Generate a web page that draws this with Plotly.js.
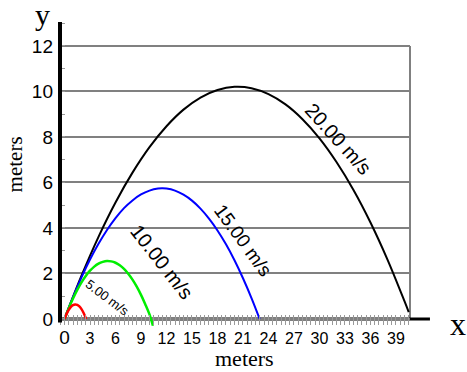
<!DOCTYPE html>
<html>
<head>
<meta charset="utf-8">
<script src="https://cdn.plot.ly/plotly-3.0.1.min.js"></script>
<style>html,body{margin:0;padding:0;background:#fff;}#chart{width:467px;height:372px;}</style>
</head>
<body>
<div id="chart"></div>
<script>
// Trajectory readings (x in meters, y in meters) for each launch speed
const x20 = [0, 2, 4, 6, 8, 10, 12, 14, 16, 18, 20, 22, 24, 26, 28, 30, 32, 34, 36, 38, 40, 40.5];
const y20 = [0, 1.90, 3.61, 5.12, 6.43, 7.55, 8.47, 9.20, 9.73, 10.06, 10.20, 10.14, 9.88, 9.43, 8.78, 7.94, 6.90, 5.67, 4.24, 2.61, 0.78, 0.30];

const x15 = [0, 1, 2, 3, 4, 5, 6, 7, 8, 9, 10, 11, 11.5, 12, 13, 14, 15, 16, 17, 18, 19, 20, 21, 22, 22.96];
const y15 = [0, 0.96, 1.83, 2.61, 3.30, 3.91, 4.43, 4.87, 5.21, 5.47, 5.64, 5.73, 5.74, 5.73, 5.64, 5.46, 5.20, 4.85, 4.41, 3.89, 3.28, 2.58, 1.79, 0.92, 0];

const x10 = [0, 0.5, 1, 1.5, 2, 2.5, 3, 3.5, 4, 4.5, 5, 5.5, 6, 6.5, 7, 7.5, 8, 8.5, 9, 9.5, 10, 10.4];
const y10 = [0, 0.475, 0.90, 1.28, 1.61, 1.89, 2.12, 2.30, 2.43, 2.51, 2.55, 2.53, 2.47, 2.36, 2.20, 1.99, 1.73, 1.42, 1.06, 0.65, 0.20, -0.30];

const x5 = [0, 0.25, 0.5, 0.75, 1, 1.25, 1.5, 1.75, 2, 2.25, 2.55];
const y5 = [0, 0.225, 0.40, 0.53, 0.61, 0.64, 0.62, 0.55, 0.43, 0.26, 0];

const speedLabels = ["20.00 m/s", "15.00 m/s", "10.00 m/s", "5.00 m/s"];

const xTickVals = [0, 3, 6, 9, 12, 15, 18, 21, 24, 27, 30, 33, 36, 39];
const xTickText = ['<span style="font-size:19px">0</span>', "3", "6", "9", "12", "15", "18", "21", "24", "27", "30", "33", "36", "39"];
const yTickVals = [0, 2, 4, 6, 8, 10, 12];
const yTickText = ["0", "2", "4", "6", "8", "10", "12"];

const SANS = "Liberation Sans, Arial, sans-serif";
const SERIF = "Liberation Serif, Times New Roman, serif";

function curve(x, y, color, w) {
  return {x: x, y: y, type: "scatter", mode: "lines", line: {color: color, width: w, shape: "spline"}, hoverinfo: "skip", showlegend: false};
}

const traces = [
  curve(x20, y20, "#000000", 2),
  curve(x15, y15, "#0000ff", 2),
  curve(x10, y10, "#00ee00", 2.5),
  curve(x5, y5, "#ff0000", 2.5)
];

function lbl(text, x, y, size, angle) {
  return {text: text, xref: "paper", yref: "paper", x: x, y: y, xanchor: "center", yanchor: "middle",
          textangle: angle || 0, showarrow: false, font: {family: SERIF, size: size, color: "#000"}};
}

const layout = {
  width: 467, height: 372,
  margin: {l: 60, r: 57, t: 22, b: 42, pad: 0},
  paper_bgcolor: "#ffffff", plot_bgcolor: "#ffffff",
  showlegend: false,
  xaxis: {
    range: [-0.53, 40.65], anchor: "free", position: 0.052,
    showline: false, showgrid: false, zeroline: false,
    tickmode: "array", tickvals: xTickVals, ticktext: xTickText,
    ticks: "outside", ticklen: 10, tickwidth: 1, tickcolor: "#999999",
    minor: {dtick: 0.5, tick0: 0, ticks: "outside", ticklen: 10, tickwidth: 1, tickcolor: "#999999", showgrid: false},
    tickfont: {family: SANS, size: 16, color: "#000"}
  },
  yaxis: {
    range: [-0.485, 13.05],
    showline: false, zeroline: false,
    showgrid: true, gridcolor: "#808080", gridwidth: 2,
    tickmode: "array", tickvals: yTickVals, ticktext: yTickText,
    ticks: "inside", ticklen: 5, tickwidth: 1, tickcolor: "#999999",
    minor: {dtick: 1, tick0: 0, ticks: "inside", ticklen: 5, tickwidth: 1, tickcolor: "#999999", showgrid: false},
    tickfont: {family: SANS, size: 19, color: "#000"},
    ticklabelstandoff: 6
  },
  shapes: [
    {type: "line", xref: "paper", yref: "y", x0: 1, x1: 1, y0: 0, y1: 12, line: {color: "#808080", width: 2}, layer: "below"},
    {type: "line", xref: "paper", yref: "y", x0: 0, x1: 1.057, y0: 0, y1: 0, line: {color: "#000000", width: 3}, layer: "below"},
    {type: "line", xref: "paper", yref: "y", x0: 0, x1: 0, y0: -0.15, y1: 13.05, line: {color: "#000000", width: 4}, layer: "above"}
  ],
  annotations: [
    {text: speedLabels[0], x: 32.2, y: 7.89, xref: "x", yref: "y", textangle: 48, showarrow: false, font: {family: SANS, size: 20, color: "#000"}},
    {text: speedLabels[1], x: 21.0, y: 3.44, xref: "x", yref: "y", textangle: 54, showarrow: false, font: {family: SANS, size: 19, color: "#000"}},
    {text: speedLabels[2], x: 11.47, y: 2.51, xref: "x", yref: "y", textangle: 52, showarrow: false, font: {family: SANS, size: 20, color: "#000"}},
    {text: speedLabels[3], x: 5.0, y: 0.93, xref: "x", yref: "y", textangle: 37, showarrow: false, font: {family: SANS, size: 13, color: "#000"}},
    lbl("y", -0.0486, 1.024, 30),
    lbl("x", 1.137, 0.0195, 32),
    lbl("meters", -0.13, 0.536, 21, -90),
    lbl("meters", 0.526, -0.0925, 22)
  ]
};

Plotly.newPlot("chart", traces, layout, {displayModeBar: false, staticPlot: true});
</script>
</body>
</html>
